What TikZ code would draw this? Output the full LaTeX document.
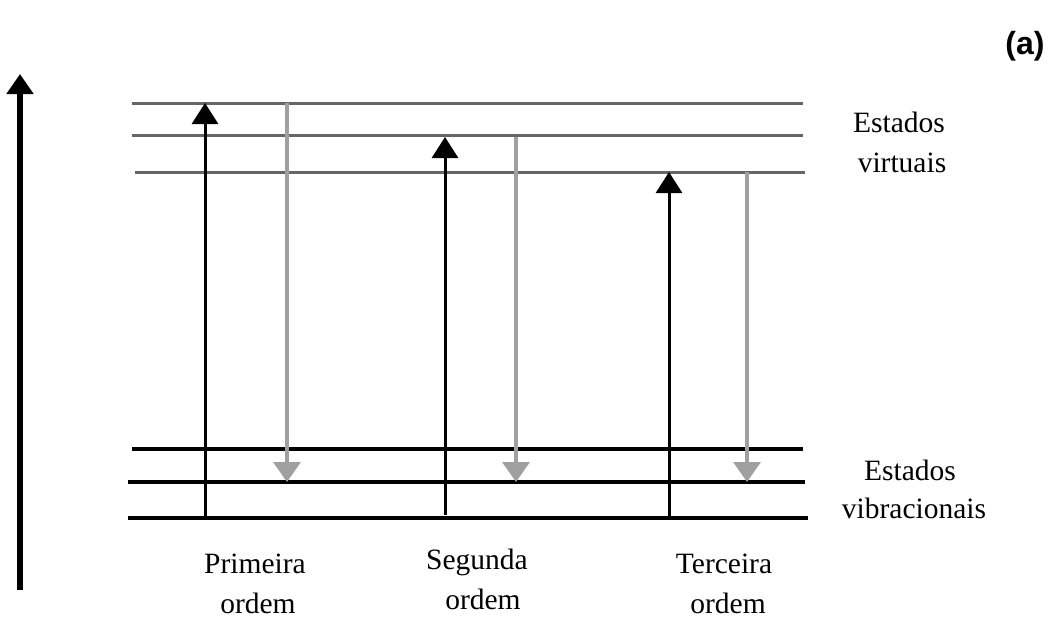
\documentclass[tikz,border=0pt]{standalone}
\usepackage{fontspec}
\setmainfont{Liberation Serif}
\setsansfont{Liberation Sans}
\usetikzlibrary{arrows.meta}

\definecolor{virtline}{HTML}{666666}
\definecolor{emitgray}{HTML}{A0A0A0}

\tikzset{
  virtual/.style={draw=virtline, line width=3pt},
  vibr/.style={draw=black, line width=3.5pt},
  excite/.style={draw=black, line width=3pt, -{Triangle[length=21pt,width=26pt]}},
  emit/.style={draw=emitgray, line width=3.5pt, -{Triangle[length=20pt,width=27pt]}},
  axisarrow/.style={draw=black, line width=6pt, -{Triangle[length=20pt,width=26pt]}},
  lbl/.style={font=\fontsize{29.5}{40}\selectfont, anchor=base, inner sep=0pt}
}

\begin{document}
\begin{tikzpicture}[x=1pt, y=-1pt]
  \useasboundingbox (0,0) rectangle (1056,619);

  % energy axis
  \coordinate (axB) at (20,590);
  \coordinate (axT) at (20,74);
  \draw[axisarrow] (axB) -- (axT);

  % virtual levels
  \coordinate (v1L) at (132,103); \coordinate (v1R) at (803,103);
  \coordinate (v2L) at (132,135); \coordinate (v2R) at (803,135);
  \coordinate (v3L) at (135,172); \coordinate (v3R) at (805,172);
  \draw[virtual] (v1L) -- (v1R);
  \draw[virtual] (v2L) -- (v2R);
  \draw[virtual] (v3L) -- (v3R);

  % vibrational levels
  \coordinate (g1L) at (132,449); \coordinate (g1R) at (803,449);
  \coordinate (g2L) at (128,482); \coordinate (g2R) at (805,482);
  \coordinate (g3L) at (128,518); \coordinate (g3R) at (808,518);
  \draw[vibr] (g1L) -- (g1R);
  \draw[vibr] (g2L) -- (g2R);
  \draw[vibr] (g3L) -- (g3R);

  % excitation (black) and emission (gray) arrows
  \coordinate (e1B) at (205,518); \coordinate (e1T) at (205,103);
  \coordinate (e2B) at (445,515); \coordinate (e2T) at (445,137);
  \coordinate (e3B) at (669,518); \coordinate (e3T) at (669,172);
  \draw[excite] (e1B) -- (e1T);
  \draw[excite] (e2B) -- (e2T);
  \draw[excite] (e3B) -- (e3T);

  \coordinate (s1T) at (287,103); \coordinate (s1B) at (287,482);
  \coordinate (s2T) at (516,137); \coordinate (s2B) at (516,482);
  \coordinate (s3T) at (747,172); \coordinate (s3B) at (747,482);
  \draw[emit] (s1T) -- (s1B);
  \draw[emit] (s2T) -- (s2B);
  \draw[emit] (s3T) -- (s3B);

  % labels
  \node[lbl] (virtA) at (899,132) {Estados};
  \node[lbl] (virtB) at (902,172) {virtuais};
  \node[lbl] (vibA) at (910,480) {Estados};
  \node[lbl] (vibB) at (914,518) {vibracionais};

  \node[lbl] (o1A) at (255,573) {Primeira};
  \node[lbl] (o1B) at (258,613) {ordem};
  \node[lbl] (o2A) at (477,569) {Segunda};
  \node[lbl] (o2B) at (483,609) {ordem};
  \node[lbl] (o3A) at (724,573) {Terceira};
  \node[lbl] (o3B) at (728,613) {ordem};

  \node[font=\sffamily\bfseries\fontsize{32}{34}\selectfont, inner sep=0pt] (panel) at (1025,46) {(a)};
\end{tikzpicture}
\end{document}
